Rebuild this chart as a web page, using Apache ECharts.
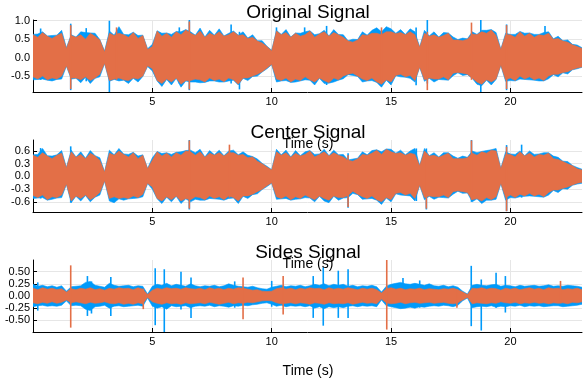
<!DOCTYPE html>
<html><head><meta charset="utf-8">
<script src="https://cdn.jsdelivr.net/npm/echarts@6/dist/echarts.min.js"></script>
<style>html,body{margin:0;padding:0;background:#fff}#c{width:588px;height:383px}</style>
</head><body><div id="c"></div>
<script>
// sample times (s), 0.2 s step, 0 .. 23
const time = [];
for (let i = 0; i <= 115; i++) time.push(+(i * 0.2).toFixed(1));

const titles = ["Original Signal", "Center Signal", "Sides Signal"];
const xLabel = "Time (s)";
const xTicks = [5, 10, 15, 20];
const yTicks1 = [-0.5, 0.0, 0.5, 1.0];
const yTicks2 = [-0.6, -0.3, 0.0, 0.3, 0.6];
const yTicks3 = [-0.5, -0.25, 0.0, 0.25, 0.5];

// ---- Original signal: envelope (upper / lower) of channel 1 (blue) and channel 2 (orange)
const origBlueUp = [
.63,.64,.70,.59,.60, .61,.74,.27,.62,.56, .70,.68,.67,.66,.49, .18,.72,.61,.84,.63,
.62,.69,.60,.61,.24, .36,.73,.66,.67,.63, .71,.70,.76,.70,.61, .80,.56,.74,.61,.78,
.59,.66,.72,.61,.70, .53,.62,.46,.46,.31, .20,.74,.63,.76,.56, .67,.66,.70,.73,.62,
.65,.74,.59,.76,.63, .62,.46,.50,.49,.70, .61,.74,.81,.70,.84, .78,.66,.76,.63,.78,
.70,.29,.74,.59,.70, .56,.68,.67,.56,.49, .53,.51,.70,.63,.74, .74,.76,.68,.23,.66,
.63,.63,.71,.66,.67, .63,.63,.68,.70,.51, .58,.46,.48,.36,.34, .27];
const origBlueLo = [
-.60,-.59,-.58,-.61,-.63, -.59,-.58,-.23,-.58,-.56, -.68,-.53,-.70,-.56,-.52, -.16,-.64,-.59,-.63,-.61,
-.70,-.56,-.66,-.51,-.24, -.36,-.63,-.78,-.59,-.74, -.56,-.80,-.63,-.66,-.66, -.68,-.67,-.63,-.63,-.66,
-.66,-.63,-.61,-.74,-.56, -.62,-.51,-.50,-.39,-.30, -.19,-.66,-.63,-.62,-.67, -.66,-.63,-.60,-.61,-.74,
-.56,-.70,-.69,-.66,-.61, -.57,-.46,-.48,-.51,-.66, -.63,-.62,-.67,-.80,-.61, -.74,-.49,-.52,-.53,-.56,
-.66,-.26,-.64,-.56,-.66, -.59,-.60,-.61,-.49,-.41, -.48,-.46,-.56,-.72,-.76, -.61,-.74,-.59,-.21,-.64,
-.62,-.63,-.58,-.59,-.60, -.61,-.63,-.63,-.57,-.46, -.52,-.41,-.44,-.33,-.30, -.26];
const origOrangeUp = [
.62,.55,.68,.58,.52, .60,.66,.25,.60,.55, .62,.50,.66,.58,.48, .15,.66,.60,.66,.62,
.55,.68,.52,.60,.22, .30,.72,.58,.66,.55, .70,.62,.75,.66,.60, .72,.55,.66,.60,.70,
.58,.62,.70,.60,.62, .52,.55,.45,.40,.30, .18,.72,.62,.68,.55, .66,.58,.62,.72,.55,
.64,.70,.58,.68,.62, .55,.45,.42,.48,.62, .60,.66,.66,.62,.70, .70,.65,.68,.62,.70,
.62,.28,.66,.58,.62, .55,.60,.66,.48,.48, .46,.50,.64,.62,.70, .66,.75,.60,.22,.62,
.62,.55,.70,.58,.66, .55,.62,.60,.66,.50, .52,.45,.42,.35,.30, .25];
const origOrangeLo = [
-.52,-.58,-.50,-.60,-.55, -.58,-.50,-.22,-.55,-.55, -.60,-.52,-.62,-.55,-.45, -.15,-.62,-.58,-.55,-.60,
-.62,-.55,-.58,-.50,-.22, -.30,-.62,-.70,-.58,-.66, -.55,-.72,-.62,-.62,-.58, -.60,-.66,-.55,-.62,-.58,
-.65,-.55,-.60,-.72,-.55, -.55,-.50,-.45,-.38,-.28, -.18,-.58,-.62,-.55,-.66, -.58,-.62,-.52,-.60,-.66,
-.55,-.62,-.68,-.55,-.60, -.50,-.45,-.42,-.50,-.58, -.62,-.55,-.66,-.72,-.60, -.66,-.48,-.45,-.52,-.48,
-.62,-.25,-.60,-.55,-.58, -.58,-.52,-.60,-.42,-.40, -.42,-.45,-.55,-.66,-.72, -.60,-.66,-.58,-.20,-.60,
-.55,-.62,-.50,-.58,-.52, -.60,-.55,-.62,-.50,-.45, -.45,-.40,-.38,-.32,-.28, -.25];
// isolated peaks: [time (s), top, bottom]
const origBluePeaks = [
[0.32,.79,-.60],[1.58,.92,-.88],[2.23,.80,-.64],[3.2,1.0,-.94],[6.13,.82,-.70],[6.55,1.02,-.88],
[8.3,.90,-.70],[8.65,.70,-.86],[10.2,.82,-.60],[11.38,.82,-.60],[12.3,.86,-.74],[16.05,.82,-.75],
[16.52,1.02,-.70],[18.76,1.02,-.94],[19.84,.90,-.88],[21.45,.86,-.60]];
const origOrangePeaks = [
[1.58,.88,-.85],[3.5,.82,-.60],[6.55,.98,-.86],[14.6,.82,-.60],[16.52,.70,-.88],[18.37,.95,-.60],[19.84,.88,-.85]];

// ---- Center signal
const centerBlueUp = [
.51,.52,.66,.49,.48, .51,.61,.21,.62,.46, .58,.43,.61,.49,.44, .11,.62,.51,.66,.53,
.52,.57,.48,.51,.19, .44,.59,.54,.56,.52, .57,.58,.61,.62,.56, .64,.46,.61,.51,.62,
.49,.60,.62,.51,.58, .50,.47,.41,.31,.24, .16,.64,.51,.62,.46, .61,.49,.58,.61,.52,
.53,.64,.49,.62,.51, .52,.39,.41,.43,.58, .51,.61,.63,.58,.65, .64,.55,.62,.51,.60,
.66,.26,.66,.49,.56, .46,.56,.56,.48,.43, .48,.45,.60,.56,.59, .61,.63,.66,.19,.58,
.53,.52,.60,.49,.60, .52,.53,.56,.56,.48, .45,.36,.35,.26,.21, .17];
const centerBlueLo = [
-.52,-.51,-.50,-.56,-.54, -.51,-.50,-.19,-.62,-.47, -.58,-.45,-.60,-.49,-.44, -.11,-.58,-.62,-.53,-.56,
-.53,-.52,-.51,-.48,-.17, -.30,-.53,-.64,-.49,-.60, -.47,-.64,-.53,-.60,-.54, -.56,-.56,-.52,-.53,-.54,
-.56,-.52,-.51,-.64,-.47, -.52,-.43,-.41,-.31,-.24, -.16,-.54,-.53,-.52,-.56, -.54,-.53,-.50,-.51,-.60,
-.47,-.58,-.62,-.47,-.56, -.51,-.50,-.40,-.43,-.54, -.53,-.52,-.56,-.66,-.51, -.60,-.41,-.44,-.45,-.46,
-.58,-.21,-.55,-.47,-.54, -.49,-.50,-.51,-.42,-.35, -.40,-.39,-.60,-.53,-.64, -.56,-.56,-.54,-.17,-.56,
-.50,-.51,-.48,-.47,-.46, -.47,-.48,-.49,-.44,-.33, -.38,-.29,-.30,-.21,-.18, -.16];
const centerOrangeUp = [
.50,.45,.56,.48,.42, .50,.55,.20,.58,.45, .52,.42,.55,.48,.38, .10,.55,.50,.60,.52,
.46,.56,.42,.50,.18, .38,.58,.48,.55,.46, .56,.50,.60,.58,.50, .58,.45,.55,.50,.56,
.48,.56,.56,.50,.52, .44,.46,.36,.30,.22, .15,.58,.50,.56,.45, .55,.48,.52,.60,.46,
.52,.58,.48,.56,.50, .46,.38,.36,.42,.52, .50,.55,.62,.52,.64, .58,.54,.56,.50,.55,
.52,.25,.60,.48,.50, .45,.50,.55,.42,.42, .42,.44,.55,.50,.58, .55,.62,.60,.18,.52,
.52,.46,.58,.48,.55, .46,.52,.50,.55,.42, .40,.35,.30,.25,.18, .15];
const centerOrangeLo = [
-.45,-.50,-.44,-.55,-.48, -.50,-.44,-.18,-.58,-.46, -.52,-.44,-.55,-.48,-.38, -.10,-.52,-.48,-.52,-.50,
-.52,-.46,-.50,-.42,-.16, -.25,-.52,-.58,-.48,-.55, -.46,-.58,-.52,-.55,-.48, -.50,-.55,-.46,-.52,-.48,
-.55,-.46,-.50,-.58,-.46, -.46,-.42,-.36,-.30,-.22, -.15,-.48,-.52,-.46,-.55, -.48,-.52,-.44,-.50,-.55,
-.46,-.52,-.56,-.46,-.50, -.50,-.45,-.35,-.42,-.48, -.52,-.46,-.55,-.60,-.50, -.55,-.40,-.38,-.44,-.40,
-.52,-.20,-.50,-.46,-.48, -.48,-.44,-.50,-.36,-.34, -.36,-.38,-.55,-.52,-.58, -.50,-.55,-.48,-.16,-.50,
-.44,-.50,-.42,-.46,-.40, -.46,-.42,-.48,-.38,-.32, -.32,-.28,-.25,-.20,-.16, -.14];
const centerBluePeaks = [
[0.32,.67,-.52],[1.58,.71,-.62],[6.55,.86,-.78],[13.2,.55,-.74],[16.06,.66,-.58],[16.48,.66,-.78],
[18.37,.86,-.60],[19.84,.74,-.82],[20.47,.75,-.50]];
const centerOrangePeaks = [
[6.55,.85,-.76],[8.23,.75,-.50],[13.2,.50,-.72],[16.48,.55,-.76],[18.37,.85,-.55],[19.84,.70,-.82]];

// ---- Sides signal
const sidesBlueUp = [
.24,.20,.22,.19,.21, .18,.21,.10,.19,.20, .21,.28,.30,.22,.20, .18,.26,.22,.20,.21,
.22,.19,.21,.20,.04, .20,.24,.22,.26,.21, .24,.22,.20,.25,.21, .19,.21,.20,.22,.19,
.21,.25,.22,.20,.19, .18,.20,.17,.15,.14, .18,.20,.22,.19,.21, .20,.22,.19,.21,.24,
.22,.25,.21,.24,.22, .24,.20,.22,.19,.21, .20,.22,.19,.08,.20, .24,.26,.28,.25,.24,
.26,.24,.22,.25,.21, .20,.22,.19,.21,.18, .10,.04,.22,.24,.22, .21,.23,.24,.20,.22,
.21,.19,.22,.20,.21, .22,.20,.21,.23,.20, .21,.20,.22,.21,.20, .18];
const sidesBlueLo = [
-.22,-.20,-.19,-.21,-.20, -.21,-.19,-.10,-.20,-.19, -.20,-.27,-.30,-.22,-.21, -.19,-.25,-.21,-.20,-.22,
-.21,-.20,-.19,-.21,-.04, -.21,-.25,-.22,-.27,-.20, -.22,-.21,-.20,-.24,-.21, -.20,-.21,-.19,-.22,-.20,
-.21,-.23,-.20,-.21,-.19, -.20,-.18,-.17,-.15,-.14, -.17,-.21,-.19,-.22,-.20, -.21,-.20,-.22,-.20,-.25,
-.22,-.26,-.22,-.24,-.22, -.24,-.21,-.20,-.22,-.20, -.21,-.20,-.22,-.08,-.20, -.22,-.24,-.26,-.25,-.23,
-.25,-.22,-.23,-.21,-.20, -.21,-.19,-.20,-.22,-.19, -.10,-.04,-.24,-.22,-.21, -.22,-.20,-.23,-.21,-.22,
-.20,-.21,-.19,-.22,-.20, -.21,-.20,-.22,-.21,-.20, -.20,-.22,-.21,-.20,-.19, -.17];
const sidesOrangeUp = [
.16,.13,.17,.14,.16, .13,.15,.08,.15,.13, .16,.14,.17,.13,.15, .12,.16,.14,.17,.15,
.16,.13,.17,.14,.03, .12,.16,.14,.17,.15, .16,.14,.17,.15,.14, .16,.13,.17,.14,.16,
.13,.16,.14,.17,.16, .14,.12,.13,.10,.09, .10,.15,.17,.14,.16, .13,.16,.14,.17,.15,
.16,.13,.17,.14,.16, .14,.17,.15,.13,.16, .14,.16,.13,.06,.15, .17,.14,.16,.13,.15,
.14,.16,.13,.15,.14, .13,.15,.14,.16,.13, .08,.03,.16,.15,.17, .14,.16,.15,.12,.16,
.14,.16,.13,.15,.17, .14,.16,.13,.17,.15, .16,.13,.15,.14,.16, .13];
const sidesOrangeLo = [
-.14,-.16,-.13,-.15,-.12, -.15,-.13,-.08,-.14,-.12, -.14,-.16,-.13,-.15,-.14, -.12,-.15,-.16,-.14,-.17,
-.15,-.17,-.14,-.16,-.03, -.12,-.15,-.17,-.14,-.16, -.15,-.17,-.14,-.16,-.15, -.14,-.16,-.13,-.15,-.17,
-.15,-.13,-.16,-.14,-.15, -.13,-.14,-.12,-.10,-.09, -.10,-.14,-.16,-.15,-.14, -.16,-.14,-.15,-.17,-.14,
-.15,-.17,-.14,-.16,-.15, -.16,-.14,-.17,-.15,-.13, -.15,-.14,-.16,-.06,-.14, -.16,-.15,-.13,-.16,-.14,
-.13,-.15,-.14,-.13,-.15, -.14,-.13,-.15,-.16,-.14, -.08,-.03,-.16,-.14,-.15, -.16,-.14,-.15,-.12,-.14,
-.15,-.13,-.16,-.14,-.15, -.13,-.15,-.14,-.16,-.14, -.15,-.14,-.16,-.13,-.14, -.12];
const sidesBluePeaks = [
[0.2,.28,-.30],[2.28,.41,-.41],[2.45,.30,-.36],[3.26,.39,-.41],[5.12,.57,-.60],[5.5,.55,-.76],
[6.2,.50,-.28],[6.62,.38,-.45],[8.45,.30,-.24],[10.0,.31,-.22],[11.74,.41,-.45],[12.16,.59,-.61],
[12.79,.52,-.45],[13.2,.55,-.45],[15.5,.37,-.24],[16.2,.32,-.24],[18.36,.62,-.62],[18.78,.34,-.71],
[19.4,.48,-.24],[19.79,.41,-.34]];
const sidesOrangePeaks = [
[1.58,.63,-.65],[4.62,.15,-.27],[8.8,.38,-.48],[10.48,.41,-.38],[14.82,.74,-.69],[17.76,.14,-.24],[22.1,.31,-.15]];

const BLUE = '#009AFA', ORANGE = '#E36F47';
const FONT = '"Liberation Sans", Arial, sans-serif';

const panels = [
  {top: 20, min: -0.93, max: 1.02, ticks: yTicks1, dec: 1,
   b: [origBlueUp, origBlueLo, origBluePeaks], o: [origOrangeUp, origOrangeLo, origOrangePeaks]},
  {top: 140, min: -0.84, max: 0.86, ticks: yTicks2, dec: 1,
   b: [centerBlueUp, centerBlueLo, centerBluePeaks], o: [centerOrangeUp, centerOrangeLo, centerOrangePeaks]},
  {top: 260, min: -0.74, max: 0.74, ticks: yTicks3, dec: 2,
   b: [sidesBlueUp, sidesBlueLo, sidesBluePeaks], o: [sidesOrangeUp, sidesOrangeLo, sidesOrangePeaks]}
];

const grid = [], xAxis = [], yAxis = [], series = [];
panels.forEach((p, k) => {
  grid.push({left: 33, width: 549, top: p.top, height: 72, containLabel: false});
  xAxis.push({
    type: 'value', gridIndex: k, min: 0, max: 23,
    axisLine: {show: true, onZero: false, lineStyle: {color: '#000', width: 1}},
    axisTick: {show: true, inside: true, length: 4, customValues: xTicks, lineStyle: {color: '#000'}},
    axisLabel: {show: true, customValues: xTicks, margin: 4, color: '#000', fontSize: 11, fontFamily: FONT},
    splitLine: {show: true, lineStyle: {color: '#e6e6e6', width: 1}}
  });
  yAxis.push({
    type: 'value', gridIndex: k, min: p.min, max: p.max,
    axisLine: {show: true, onZero: false, lineStyle: {color: '#000', width: 1}},
    axisTick: {show: true, inside: true, length: 4, customValues: p.ticks, lineStyle: {color: '#000'}},
    axisLabel: {show: true, customValues: p.ticks, margin: 3, color: '#000', fontSize: 11, fontFamily: FONT,
      formatter: v => (+v).toFixed(p.dec)},
    splitLine: {show: true, lineStyle: {color: '#e6e6e6', width: 1}}
  });
  // one closed band polygon per channel: upper envelope forward, lower envelope back
  const band = (up, lo, color) => ({
    type: 'custom', xAxisIndex: k, yAxisIndex: k, silent: true, animation: false, clip: true,
    data: [[0, 0]],
    renderItem: (params, api) => {
      const pts = [];
      for (let i = 0; i < time.length; i++) pts.push(api.coord([time[i], up[i]]));
      for (let i = time.length - 1; i >= 0; i--) pts.push(api.coord([time[i], lo[i]]));
      return {type: 'polygon', shape: {points: pts},
        style: {fill: color, stroke: color, lineWidth: 0.6, lineJoin: 'round'}};
    }
  });
  // isolated peaks drawn as thin vertical strokes
  const peaks = (list, color) => ({
    type: 'custom', xAxisIndex: k, yAxisIndex: k, silent: true, animation: false, clip: true,
    data: list,
    encode: {x: 0, y: [1, 2]},
    renderItem: (params, api) => {
      const a = api.coord([api.value(0), api.value(1)]);
      const b = api.coord([api.value(0), api.value(2)]);
      return {type: 'line', shape: {x1: a[0], y1: a[1], x2: b[0], y2: b[1]},
        style: {stroke: color, lineWidth: 1.6}};
    }
  });
  series.push(band(p.b[0], p.b[1], BLUE), peaks(p.b[2], BLUE),
              band(p.o[0], p.o[1], ORANGE), peaks(p.o[2], ORANGE));
});

const txt = (s, x, y, size) => ({type: 'text', x: x, y: y, z: 100,
  style: {text: s, font: size + 'px ' + FONT, fill: '#000', align: 'center', verticalAlign: 'middle'}});
const graphic = [
  txt(titles[0], 308, 13, 19), txt(titles[1], 308, 133, 19), txt(titles[2], 308, 253, 19),
  txt(xLabel, 308, 144, 14), txt(xLabel, 308, 264, 14), txt(xLabel, 308, 371, 14)
];

const chart = echarts.init(document.getElementById('c'), null, {renderer: 'canvas'});
chart.setOption({animation: false, grid, xAxis, yAxis, series, graphic});
</script></body></html>
